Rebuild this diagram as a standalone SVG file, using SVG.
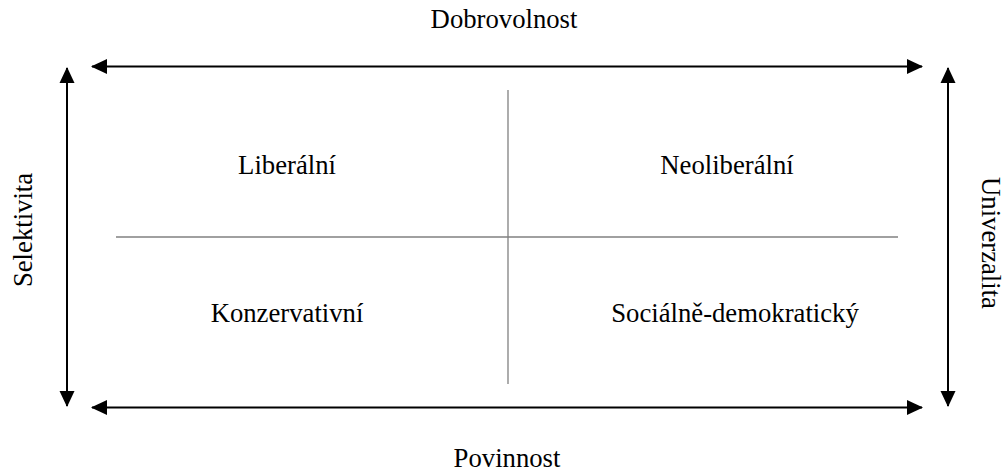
<svg xmlns="http://www.w3.org/2000/svg" width="1004" height="472" viewBox="0 0 1004 472">
<style>
text{font-family:'Liberation Serif','Times New Roman',Tinos,'DejaVu Serif',serif;font-size:26.7px;fill:#000;text-anchor:middle}
.arr{stroke:#000;stroke-width:2;fill:none;marker-start:url(#ah);marker-end:url(#ah)}
.div{stroke:#808080;stroke-width:1.3;fill:none}
</style>
<defs>
<marker id="ah" viewBox="0 0 16 16" refX="15" refY="8" markerWidth="16" markerHeight="16" markerUnits="userSpaceOnUse" orient="auto-start-reverse">
<path d="M0,0.5 L16,8 L0,15.5 Z" fill="#000"/>
</marker>
</defs>
<rect width="1004" height="472" fill="#fff"/>
<g id="connectors">
<line class="arr" x1="92" y1="66.5" x2="922" y2="66.5"/>
<line class="arr" x1="92" y1="407.5" x2="922" y2="407.5"/>
<line class="arr" x1="67" y1="68" x2="67" y2="406"/>
<line class="arr" x1="948" y1="68" x2="948" y2="406"/>
<line class="div" x1="508" y1="90" x2="508" y2="384"/>
<line class="div" x1="116" y1="237" x2="898" y2="237"/>
</g>
<g id="axis-top"><text x="504" y="28">Dobrovolnost</text></g>
<g id="axis-bottom"><text x="507" y="467">Povinnost</text></g>
<g id="axis-left"><text transform="translate(32,230) rotate(-90)">Selektivita</text></g>
<g id="axis-right"><text transform="translate(982,243) rotate(90)">Univerzalita</text></g>
<g id="liberalni"><text x="287" y="174">Liberální</text></g>
<g id="neoliberalni"><text x="727" y="174">Neoliberální</text></g>
<g id="konzervativni"><text x="287" y="322">Konzervativní</text></g>
<g id="socialne-demokraticky"><text x="735" y="322">Sociálně-demokratický</text></g>
</svg>
